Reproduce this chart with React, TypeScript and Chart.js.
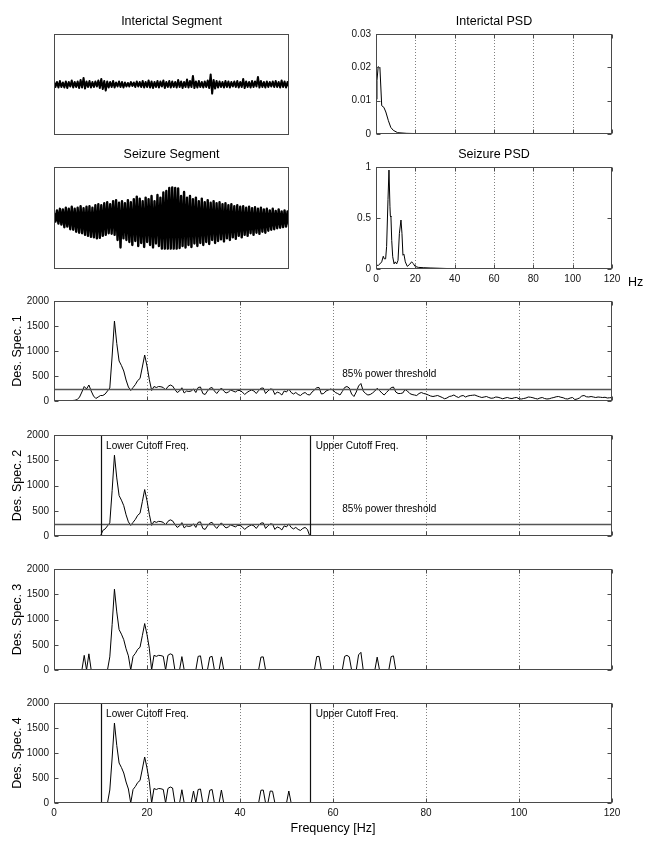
import React, { useEffect, useRef } from "react";
import { Chart, registerables } from "chart.js";

Chart.register(...registerables);

const FONT = "'Liberation Sans', Arial, Helvetica, sans-serif";

// ---------------- DATA ----------------
// Time-domain segments (normalised amplitude, alternating samples)
const INTERICTAL_SEGMENT = [
  0.06, -0.05, 0.05, -0.06, 0.07, -0.05, 0.04, -0.06, 0.06, -0.07, 0.05, -0.04, 0.08, -0.06, 0.05, -0.05, 0.06, -0.07, 0.09, -0.06,
  0.13, -0.08, 0.06, -0.05, 0.07, -0.06, 0.05, -0.05, 0.06, -0.04, 0.08, -0.07, 0.11, -0.09, 0.07, -0.12, 0.06, -0.06, 0.05, -0.05,
  0.07, -0.06, 0.04, -0.04, 0.06, -0.05, 0.05, -0.06, 0.04, -0.04, 0.03, -0.04, 0.05, -0.03, 0.04, -0.05, 0.06, -0.04, 0.05, -0.05,
  0.07, -0.06, 0.05, -0.05, 0.08, -0.06, 0.06, -0.07, 0.05, -0.05, 0.07, -0.06, 0.06, -0.04, 0.08, -0.07, 0.05, -0.05, 0.07, -0.06,
  0.06, -0.05, 0.05, -0.06, 0.09, -0.05, 0.06, -0.07, 0.05, -0.05, 0.10, -0.06, 0.07, -0.05, 0.17, -0.07, 0.06, -0.06, 0.07, -0.05,
  0.05, -0.06, 0.06, -0.05, 0.08, -0.07, 0.20, -0.18, 0.09, -0.08, 0.07, -0.06, 0.06, -0.05, 0.05, -0.06, 0.07, -0.05, 0.06, -0.06,
  0.05, -0.04, 0.06, -0.05, 0.07, -0.06, 0.05, -0.05, 0.11, -0.07, 0.06, -0.05, 0.05, -0.06, 0.07, -0.05, 0.06, -0.04, 0.15, -0.06,
  0.07, -0.05, 0.05, -0.06, 0.06, -0.05, 0.05, -0.04, 0.06, -0.05, 0.07, -0.05, 0.05, -0.06, 0.08, -0.05, 0.06, -0.06, 0.05, -0.05,
];

const SEIZURE_SEGMENT = [
  0.10, -0.07, 0.15, -0.11, 0.18, -0.13, 0.17, -0.18, 0.20, -0.17, 0.18, -0.22, 0.22, -0.23, 0.18, -0.27, 0.20, -0.29, 0.23, -0.30,
  0.19, -0.33, 0.22, -0.35, 0.23, -0.37, 0.20, -0.38, 0.25, -0.40, 0.27, -0.39, 0.25, -0.35, 0.29, -0.33, 0.31, -0.30, 0.27, -0.31,
  0.33, -0.33, 0.35, -0.43, 0.30, -0.58, 0.33, -0.40, 0.29, -0.43, 0.35, -0.47, 0.31, -0.53, 0.37, -0.45, 0.42, -0.55, 0.38, -0.49,
  0.33, -0.57, 0.40, -0.47, 0.37, -0.53, 0.43, -0.58, 0.33, -0.50, 0.45, -0.55, 0.40, -0.60, 0.50, -0.60, 0.53, -0.60, 0.59, -0.60,
  0.60, -0.60, 0.59, -0.60, 0.58, -0.59, 0.43, -0.55, 0.51, -0.58, 0.40, -0.53, 0.43, -0.57, 0.37, -0.50, 0.40, -0.55, 0.33, -0.49,
  0.38, -0.53, 0.31, -0.47, 0.35, -0.51, 0.30, -0.43, 0.33, -0.49, 0.29, -0.45, 0.31, -0.42, 0.27, -0.46, 0.29, -0.40, 0.25, -0.43,
  0.27, -0.38, 0.23, -0.41, 0.25, -0.35, 0.22, -0.38, 0.23, -0.33, 0.20, -0.35, 0.22, -0.30, 0.19, -0.33, 0.21, -0.29, 0.18, -0.31,
  0.20, -0.27, 0.17, -0.29, 0.18, -0.25, 0.15, -0.23, 0.18, -0.22, 0.14, -0.20, 0.17, -0.19, 0.13, -0.18, 0.15, -0.17, 0.13, -0.14,
];

// Power spectral densities
const PSD_INTERICTAL_FREQ = [0, 0.5, 1.1, 2, 2.9, 4, 5, 6.3, 7.5, 8.8, 11, 15.6, 22, 30, 40, 60, 80, 100, 120];
const PSD_INTERICTAL_VALUE = [0.0104, 0.016, 0.0202, 0.0198, 0.0085, 0.008, 0.0066, 0.004, 0.002, 0.0011, 0.0004, 0.0002, 0.0001, 0.00005, 0.00003, 0.00002, 0.00001, 0.00001, 0.00001];

const PSD_SEIZURE_FREQ = [0, 1.2, 2, 2.9, 3.7, 4.2, 4.9, 5.4, 6.1, 6.6, 7.1, 7.3, 7.6, 8, 8.5, 9.2, 9.8, 10.5, 11.2, 11.9, 12.7, 13.2, 13.7, 14.2, 14.9, 15.9, 17, 18.1, 19, 19.8, 21.5, 24, 27.5, 32.5, 39, 56, 80, 120];
const PSD_SEIZURE_VALUE = [0.036, 0.036, 0.05, 0.07, 0.125, 0.1, 0.1, 0.22, 0.68, 0.97, 0.61, 0.52, 0.51, 0.28, 0.12, 0.05, 0.07, 0.05, 0.085, 0.35, 0.48, 0.35, 0.135, 0.145, 0.07, 0.026, 0.043, 0.07, 0.053, 0.026, 0.016, 0.013, 0.01, 0.007, 0.003, 0.002, 0.001, 0.001];

// Descriptor spectrum 1, one value every 0.5 Hz from 0 to 120 Hz
const SPEC_FREQ_STEP = 0.5;
const DES_SPEC_1 = [
  5, 5, 5, 5, 5, 5, 6, 8, 10, 15,
  30, 80, 180, 290, 240, 320, 200, 100, 50, 80,
  110, 110, 140, 200, 260, 900, 1600, 1150, 800, 710,
  600, 420, 280, 210, 270, 330, 410, 450, 680, 920,
  700, 430, 210, 290, 270, 290, 285, 270, 220, 290,
  320, 300, 230, 170, 200, 265, 160, 200, 190, 200,
  240, 170, 270, 280, 150, 130, 200, 255, 270, 200,
  150, 210, 260, 200, 160, 180, 220, 200, 180, 210,
  210, 180, 130, 170, 200, 220, 200, 150, 210, 255,
  260, 150, 200, 240, 235, 130, 180, 160, 120, 200,
  180, 240, 170, 140, 170, 130, 110, 150, 170, 130,
  120, 180, 220, 265, 270, 140, 150, 200, 220, 240,
  220, 170, 150, 120, 190, 270, 290, 260, 140, 90,
  180, 300, 350, 200, 150, 120, 130, 160, 200, 255,
  210, 160, 120, 170, 220, 265, 280, 180, 150, 150,
  160, 230, 200, 150, 130, 120, 110, 150, 170, 150,
  140, 120, 100, 90, 100, 110, 90, 70, 45, 60,
  90, 100, 120, 90, 70, 100, 110, 80, 100, 110,
  115, 120, 100, 85, 70, 80, 90, 70, 55, 60,
  80, 75, 60, 45, 60, 70, 55, 50, 65, 70,
  45, 40, 50, 60, 80, 75, 65, 50, 40, 60,
  70, 50, 40, 45, 60, 70, 85, 90, 75, 65,
  45, 40, 60, 70, 30, 40, 60, 100, 110, 85,
  80, 90, 80, 70, 80, 75, 70, 75, 60, 65,
  70,
];

const THRESHOLD_1 = 250;
const THRESHOLD_2 = 230;
const LOWER_CUTOFF = 10;
const UPPER_CUTOFF = 55;

const FREQ_TICKS = [0, 20, 40, 60, 80, 100, 120];
const FREQ_GRID = [20, 40, 60, 80, 100];
const SPEC_Y_TICKS = [0, 500, 1000, 1500, 2000];
const PSD_INTERICTAL_TICKS = [0, 0.01, 0.02, 0.03];
const PSD_SEIZURE_TICKS = [0, 0.5, 1];

// ---------------- HELPERS ----------------
type Area = { x: number; y: number; w: number; h: number };
type Margin = { l: number; t: number; r: number; b: number };
type TextItem = { x: number; y: number; text: string };
type Decor = {
  title?: string;
  gridX?: number[];
  ticksX?: number[];
  ticksY?: number[];
  hLines?: number[];
  vLines?: number[];
  texts?: TextItem[];
  hz?: boolean;
};

function makeDecor(cfg: Decor) {
  return {
    id: "decor",
    beforeDatasetsDraw(chart: any) {
      const { ctx, chartArea: a, scales } = chart;
      if (cfg.gridX) {
        ctx.save();
        ctx.strokeStyle = "#808080";
        ctx.lineWidth = 1;
        ctx.setLineDash([1, 2]);
        cfg.gridX.forEach((v) => {
          const x = Math.round(scales.x.getPixelForValue(v)) + 0.5;
          ctx.beginPath();
          ctx.moveTo(x, a.top);
          ctx.lineTo(x, a.bottom);
          ctx.stroke();
        });
        ctx.restore();
      }
    },
    afterDatasetsDraw(chart: any) {
      const { ctx, chartArea: a, scales } = chart;
      const L = Math.round(a.left) + 0.5;
      const R = Math.round(a.right) - 0.5;
      const T = Math.round(a.top) + 0.5;
      const B = Math.round(a.bottom) - 0.5;
      const seg = (x1: number, y1: number, x2: number, y2: number) => {
        ctx.beginPath();
        ctx.moveTo(x1, y1);
        ctx.lineTo(x2, y2);
        ctx.stroke();
      };
      ctx.save();
      (cfg.hLines || []).forEach((v) => {
        const y = Math.round(scales.y.getPixelForValue(v)) + 0.5;
        ctx.strokeStyle = "#555";
        ctx.lineWidth = 1.4;
        seg(L, y, R, y);
      });
      (cfg.vLines || []).forEach((v) => {
        const x = Math.round(scales.x.getPixelForValue(v)) + 0.5;
        ctx.strokeStyle = "#111";
        ctx.lineWidth = 1.2;
        seg(x, T, x, B);
      });
      ctx.strokeStyle = "#4a4a4a";
      ctx.lineWidth = 1;
      ctx.strokeRect(L, T, R - L, B - T);
      const TL = 4;
      (cfg.ticksY || []).forEach((v) => {
        const y = Math.round(scales.y.getPixelForValue(v)) + 0.5;
        seg(L, y, L + TL, y);
        seg(R - TL, y, R, y);
      });
      (cfg.ticksX || []).forEach((v) => {
        const x = Math.round(scales.x.getPixelForValue(v)) + 0.5;
        seg(x, B, x, B - TL);
        seg(x, T, x, T + TL);
      });
      ctx.fillStyle = "#000";
      ctx.font = `10px ${FONT}`;
      ctx.textAlign = "left";
      ctx.textBaseline = "middle";
      (cfg.texts || []).forEach((t) => {
        ctx.fillText(t.text, scales.x.getPixelForValue(t.x), scales.y.getPixelForValue(t.y));
      });
      if (cfg.title) {
        ctx.font = `12.5px ${FONT}`;
        ctx.textAlign = "center";
        ctx.fillText(cfg.title, (a.left + a.right) / 2, a.top - 12.5);
      }
      if (cfg.hz) {
        ctx.font = `12.5px ${FONT}`;
        ctx.textAlign = "left";
        ctx.fillText("Hz", a.right + 16, a.bottom + 14);
      }
      ctx.restore();
    },
  };
}

type AxisSpec = {
  show: boolean;
  min: number;
  max: number;
  ticks?: number[];
  title?: string;
  titlePad?: number;
};

function axisOptions(ax: AxisSpec, isX: boolean, forced: number) {
  return {
    type: "linear",
    min: ax.min,
    max: ax.max,
    display: ax.show,
    afterBuildTicks: (s: any) => {
      if (ax.ticks) s.ticks = ax.ticks.map((v) => ({ value: v }));
    },
    afterFit: (s: any) => {
      if (ax.show) {
        if (isX) s.height = forced;
        else s.width = forced;
      }
    },
    grid: { display: false, drawTicks: false },
    border: { display: false },
    ticks: {
      display: true,
      font: { family: FONT, size: 10 },
      color: "#111",
      padding: isX ? 4 : 5,
      maxRotation: 0,
      autoSkip: false,
      callback: (v: any) => String(v),
    },
    title: ax.title
      ? {
          display: true,
          text: ax.title,
          color: "#000",
          font: { family: FONT, size: 12.5 },
          padding: isX ? { top: 0, bottom: ax.titlePad ?? 6 } : { top: ax.titlePad ?? 10, bottom: 0 },
        }
      : { display: false },
  };
}

function lineConfig(
  points: { x: number; y: number }[],
  m: Margin,
  xAx: AxisSpec,
  yAx: AxisSpec,
  decor: Decor,
  lw = 1,
  join = "miter"
) {
  return {
    type: "line",
    data: {
      datasets: [
        {
          data: points,
          borderColor: "#000",
          borderWidth: lw,
          borderJoinStyle: join,
          pointRadius: 0,
          tension: 0,
          fill: false,
        },
      ],
    },
    options: {
      animation: false,
      responsive: false,
      maintainAspectRatio: false,
      events: [],
      layout: {
        padding: {
          left: yAx.show ? 0 : m.l,
          right: m.r,
          top: m.t,
          bottom: xAx.show ? 0 : m.b,
        },
      },
      plugins: { legend: { display: false }, tooltip: { enabled: false }, title: { display: false } },
      scales: {
        x: axisOptions(xAx, true, m.b),
        y: axisOptions(yAx, false, m.l),
      },
    },
    plugins: [makeDecor(decor)],
  };
}

const specPoints = (vals: number[]) => vals.map((v, i) => ({ x: i * SPEC_FREQ_STEP, y: v }));
const pairPoints = (fs: number[], vs: number[]) => fs.map((f, i) => ({ x: f, y: vs[i] }));
const indexPoints = (vs: number[]) => vs.map((v, i) => ({ x: i, y: v }));

type Panel = { area: Area; m: Margin; build: () => any };

function buildPanels(): Panel[] {
  const desSpec2 = DES_SPEC_1.map((v, i) => {
    const f = i * SPEC_FREQ_STEP;
    return f > LOWER_CUTOFF && f < UPPER_CUTOFF ? v : 0;
  });
  const desSpec3 = DES_SPEC_1.map((v) => (v > THRESHOLD_1 ? v : 0));
  const desSpec4 = desSpec2.map((v) => (v > THRESHOLD_2 ? v : 0));

  const segM: Margin = { l: 10, t: 30, r: 10, b: 10 };
  const specM: Margin = { l: 54, t: 12, r: 20, b: 10 };
  const hidden = (min: number, max: number): AxisSpec => ({ show: false, min, max });
  const freqHidden = hidden(0, 120);
  const specY = (title: string): AxisSpec => ({ show: true, min: 0, max: 2000, ticks: SPEC_Y_TICKS, title });
  const baseSpecDecor: Decor = { gridX: FREQ_GRID, ticksX: FREQ_TICKS, ticksY: SPEC_Y_TICKS };
  const thrText = (y: number): TextItem => ({ x: 62, y, text: "85% power threshold" });
  const cutTexts: TextItem[] = [
    { x: 11.2, y: 1780, text: "Lower Cutoff Freq." },
    { x: 56.3, y: 1780, text: "Upper Cutoff Freq." },
  ];

  return [
    {
      area: { x: 54, y: 34, w: 235, h: 101 },
      m: segM,
      build: () =>
        lineConfig(
          indexPoints(INTERICTAL_SEGMENT),
          segM,
          hidden(0, INTERICTAL_SEGMENT.length - 1),
          hidden(-1, 1),
          { title: "Interictal Segment" },
          2,
          "round"
        ),
    },
    {
      area: { x: 54, y: 167, w: 235, h: 102 },
      m: segM,
      build: () =>
        lineConfig(
          indexPoints(SEIZURE_SEGMENT),
          segM,
          hidden(0, SEIZURE_SEGMENT.length - 1),
          hidden(-1, 1),
          { title: "Seizure Segment" },
          2.4,
          "round"
        ),
    },
    {
      area: { x: 376, y: 34, w: 236, h: 101 },
      m: { l: 50, t: 30, r: 20, b: 10 },
      build: () =>
        lineConfig(
          pairPoints(PSD_INTERICTAL_FREQ, PSD_INTERICTAL_VALUE),
          { l: 50, t: 30, r: 20, b: 10 },
          freqHidden,
          { show: true, min: 0, max: 0.03, ticks: PSD_INTERICTAL_TICKS },
          { title: "Interictal PSD", gridX: FREQ_GRID, ticksX: FREQ_TICKS, ticksY: PSD_INTERICTAL_TICKS }
        ),
    },
    {
      area: { x: 376, y: 167, w: 236, h: 102 },
      m: { l: 50, t: 30, r: 36, b: 24 },
      build: () =>
        lineConfig(
          pairPoints(PSD_SEIZURE_FREQ, PSD_SEIZURE_VALUE),
          { l: 50, t: 30, r: 36, b: 24 },
          { show: true, min: 0, max: 120, ticks: FREQ_TICKS },
          { show: true, min: 0, max: 1, ticks: PSD_SEIZURE_TICKS },
          { title: "Seizure PSD", gridX: FREQ_GRID, ticksX: FREQ_TICKS, ticksY: PSD_SEIZURE_TICKS, hz: true }
        ),
    },
    {
      area: { x: 54, y: 301, w: 558, h: 101 },
      m: specM,
      build: () =>
        lineConfig(specPoints(DES_SPEC_1), specM, freqHidden, specY("Des. Spec. 1"), {
          ...baseSpecDecor,
          hLines: [THRESHOLD_1],
          texts: [thrText(530)],
        }),
    },
    {
      area: { x: 54, y: 435, w: 558, h: 102 },
      m: specM,
      build: () =>
        lineConfig(specPoints(desSpec2), specM, freqHidden, specY("Des. Spec. 2"), {
          ...baseSpecDecor,
          hLines: [THRESHOLD_2],
          vLines: [LOWER_CUTOFF, UPPER_CUTOFF],
          texts: [...cutTexts, thrText(525)],
        }),
    },
    {
      area: { x: 54, y: 569, w: 558, h: 102 },
      m: specM,
      build: () => lineConfig(specPoints(desSpec3), specM, freqHidden, specY("Des. Spec. 3"), { ...baseSpecDecor }),
    },
    {
      area: { x: 54, y: 703, w: 558, h: 100 },
      m: { l: 54, t: 12, r: 20, b: 39 },
      build: () =>
        lineConfig(
          specPoints(desSpec4),
          { l: 54, t: 12, r: 20, b: 39 },
          { show: true, min: 0, max: 120, ticks: FREQ_TICKS, title: "Frequency [Hz]", titlePad: 6 },
          specY("Des. Spec. 4"),
          { ...baseSpecDecor, vLines: [LOWER_CUTOFF, UPPER_CUTOFF], texts: cutTexts }
        ),
    },
  ];
}

const PANELS = buildPanels();

export default function App() {
  const canvases = useRef<(HTMLCanvasElement | null)[]>([]);

  useEffect(() => {
    const charts = PANELS.map((p, i) => {
      const c = canvases.current[i] as HTMLCanvasElement;
      return new Chart(c, p.build() as any);
    });
    return () => charts.forEach((ch) => ch.destroy());
  }, []);

  return (
    <div
      style={{
        position: "absolute",
        left: 0,
        top: 0,
        width: 651,
        height: 842,
        background: "#fff",
        overflow: "hidden",
      }}
    >
      {PANELS.map((p, i) => {
        const w = p.area.w + p.m.l + p.m.r;
        const h = p.area.h + p.m.t + p.m.b;
        return (
          <canvas
            key={i}
            ref={(el) => {
              canvases.current[i] = el;
            }}
            width={w}
            height={h}
            style={{
              position: "absolute",
              left: p.area.x - p.m.l,
              top: p.area.y - p.m.t,
              width: w,
              height: h,
              display: "block",
            }}
          />
        );
      })}
    </div>
  );
}
